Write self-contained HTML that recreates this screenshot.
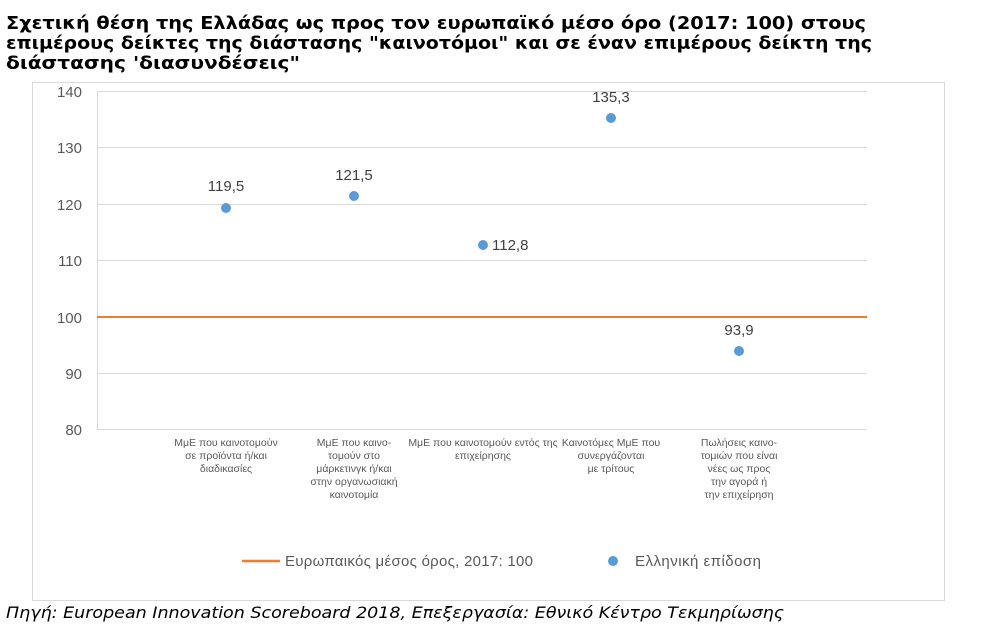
<!DOCTYPE html>
<html><head><meta charset="utf-8"><style>
body{margin:0;background:#fff;width:981px;height:634px;overflow:hidden;font-family:"Liberation Sans","DejaVu Sans",sans-serif}
</style></head><body>
<svg width="981" height="634" style="position:absolute;left:0;top:0" font-family="Liberation Sans, DejaVu Sans, sans-serif">
<g font-family="DejaVu Sans, sans-serif" font-weight="bold" font-size="18" fill="#000">
<text x="6" y="29" textLength="860" lengthAdjust="spacingAndGlyphs">Σχετική θέση της Ελλάδας ως προς τον ευρωπαϊκό μέσο όρο (2017: 100) στους</text>
<text x="6" y="49" textLength="866" lengthAdjust="spacingAndGlyphs">επιμέρους δείκτες της διάστασης "καινοτόμοι" και σε έναν επιμέρους δείκτη της</text>
<text x="6" y="69" textLength="294" lengthAdjust="spacingAndGlyphs">διάστασης 'διασυνδέσεις"</text>
</g>
<rect x="32.5" y="82.5" width="912" height="518" fill="none" stroke="#d9d9d9"/>
<g stroke="#d9d9d9" stroke-width="1">
<line x1="97" x2="867" y1="91.5" y2="91.5"/><line x1="97" x2="867" y1="147.5" y2="147.5"/>
<line x1="97" x2="867" y1="204.5" y2="204.5"/><line x1="97" x2="867" y1="260.5" y2="260.5"/>
<line x1="97" x2="867" y1="373.5" y2="373.5"/><line x1="97" x2="867" y1="429.5" y2="429.5"/>
<line x1="97.5" x2="97.5" y1="91" y2="429"/>
</g>
<line x1="97" x2="867" y1="317" y2="317" stroke="#ed7d31" stroke-width="2"/>
<g fill="#595959" font-size="15" text-anchor="end">
<text x="82" y="97">140</text><text x="82" y="153">130</text><text x="82" y="210">120</text>
<text x="82" y="266">110</text><text x="82" y="323">100</text><text x="82" y="379">90</text><text x="82" y="435">80</text>
</g>
<g fill="#5b9bd5">
<circle cx="226" cy="208" r="5"/><circle cx="354" cy="196" r="5"/><circle cx="483" cy="245" r="5"/>
<circle cx="611" cy="118" r="5"/><circle cx="739" cy="351" r="5"/>
</g>
<g fill="#404040" font-size="15">
<text x="226" y="191" text-anchor="middle">119,5</text>
<text x="354" y="180" text-anchor="middle">121,5</text>
<text x="492" y="250">112,8</text>
<text x="611" y="102" text-anchor="middle">135,3</text>
<text x="739" y="335" text-anchor="middle">93,9</text>
</g>
<g fill="#595959" font-size="10.5" text-anchor="middle">
<text x="226" y="446">ΜμΕ που καινοτομούν</text><text x="226" y="459">σε προϊόντα ή/και</text><text x="226" y="472">διαδικασίες</text>
<text x="354" y="446">ΜμΕ που καινο-</text><text x="354" y="459">τομούν στο</text><text x="354" y="472">μάρκετινγκ ή/και</text><text x="354" y="485">στην οργανωσιακή</text><text x="354" y="498">καινοτομία</text>
<text x="483" y="446">ΜμΕ που καινοτομούν εντός της</text><text x="483" y="459">επιχείρησης</text>
<text x="611" y="446">Καινοτόμες ΜμΕ που</text><text x="611" y="459">συνεργάζονται</text><text x="611" y="472">με τρίτους</text>
<text x="739" y="446">Πωλήσεις καινο-</text><text x="739" y="459">τομιών που είναι</text><text x="739" y="472">νέες ως προς</text><text x="739" y="485">την αγορά ή</text><text x="739" y="498">την επιχείρηση</text>
</g>
<line x1="242" x2="280" y1="561" y2="561" stroke="#ed7d31" stroke-width="2.5"/>
<text x="285" y="566" fill="#595959" font-size="15" textLength="248">Ευρωπαικός μέσος όρος, 2017: 100</text>
<circle cx="613" cy="561" r="5" fill="#5b9bd5"/>
<text x="635" y="566" fill="#595959" font-size="15" textLength="126">Ελληνική επίδοση</text>
<text x="6" y="618" fill="#000" font-size="16" font-style="italic" font-family="DejaVu Sans, sans-serif" textLength="778" lengthAdjust="spacingAndGlyphs">Πηγή: European Innovation Scoreboard 2018, Επεξεργασία: Εθνικό Κέντρο Τεκμηρίωσης</text>
</svg>
</body></html>
